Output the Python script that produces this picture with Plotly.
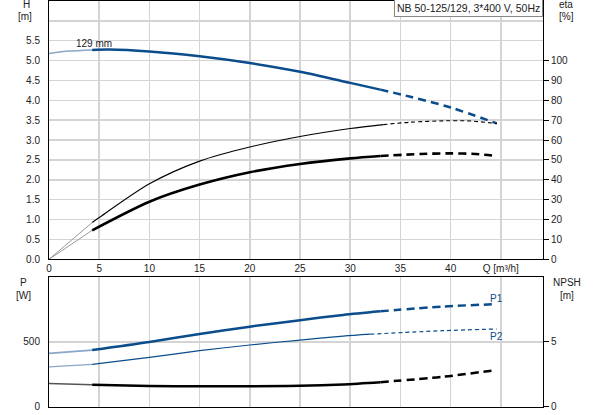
import plotly.graph_objects as go

# ---- data ----
q_h = [0, 2, 4.3, 6, 10, 15, 20, 25, 30, 33, 36, 40, 44.6]
h_vals = [5.18, 5.24, 5.27, 5.28, 5.23, 5.11, 4.94, 4.72, 4.44, 4.27, 4.09, 3.82, 3.42]

q_eta1 = [4.3, 5, 10, 15, 20, 25, 30, 33.3, 36, 39.6, 42, 44.6]
eta1 = [18.5, 21, 38, 49.4, 56.5, 61.8, 65.8, 67.8, 69.0, 69.7, 69.6, 68.3]

q_eta2 = [4.3, 10, 15, 20, 25, 30, 33, 37, 40, 42.5, 44.6]
eta2 = [14.6, 29, 37.6, 43.8, 48, 50.8, 52.0, 53.0, 53.3, 53.0, 52.0]

q_p1 = [0, 4.3, 10, 15, 20, 25, 29.3, 33, 39.2, 44.6]
p1 = [413, 438, 500, 562, 618, 668, 708, 736, 773, 791]

q_p2 = [0, 4.3, 10, 15, 20, 25, 29.3, 32, 39.2, 44.6]
p2 = [309, 328, 382, 433, 477, 515, 545, 560, 587, 600]

q_npsh = [0, 4.3, 10, 15, 20, 25, 29.3, 33, 39.2, 44.5]
npsh = [1.81, 1.72, 1.62, 1.60, 1.60, 1.63, 1.74, 1.91, 2.32, 2.84]

x_ticks = [0, 5, 10, 15, 20, 25, 30, 35, 40, 45]
x_ticktext = ["0", "5", "10", "15", "20", "25", "30", "35", "40", "Q [m³/h]"]
h_ticks = [0, 0.5, 1, 1.5, 2, 2.5, 3, 3.5, 4, 4.5, 5, 5.5, 6]
h_ticktext = ["0.0", "0.5", "1.0", "1.5", "2.0", "2.5", "3.0", "3.5", "4.0", "4.5", "5.0", "5.5", ""]
eta_ticks = [0, 10, 20, 30, 40, 50, 60, 70, 80, 90, 100]
p_ticks = [0, 500]
npsh_ticks = [0, 5]

title_text = "NB 50-125/129, 3*400 V, 50Hz"

BLUE = "#0b4c8c"
LIGHT_BLUE = "#8aa6c8"
GRID = "#d4d4d4"
FONT = "Liberation Sans, Arial, sans-serif"

fig = go.Figure()

def add(x, y, xa, ya, color, width, dash="solid"):
    fig.add_trace(go.Scatter(x=x, y=y, xaxis=xa, yaxis=ya, mode="lines",
                             line=dict(color=color, width=width, dash=dash, shape="spline", smoothing=0.8),
                             hoverinfo="skip", showlegend=False))

# H curve
add(q_h[0:3], h_vals[0:3], "x", "y", LIGHT_BLUE, 1.5)
add(q_h[2:10], h_vals[2:10], "x", "y", BLUE, 2.5)
add(q_h[9:], h_vals[9:], "x", "y", BLUE, 2.5, "8px,5px")

# eta curves (right axis)
add([0, q_eta1[0]], [0, eta1[0]], "x", "y2", "#999999", 1)
add([0, q_eta2[0]], [0, eta2[0]], "x", "y2", "#999999", 1)
add(q_eta1[0:8], eta1[0:8], "x", "y2", "black", 1.1)
add(q_eta1[7:], eta1[7:], "x", "y2", "black", 1.1, "4px,3px")
add(q_eta2[0:7], eta2[0:7], "x", "y2", "black", 2.6)
add(q_eta2[6:], eta2[6:], "x", "y2", "black", 2.6, "8px,5px")

# P1, P2
add(q_p1[0:2], p1[0:2], "x2", "y3", LIGHT_BLUE, 1.8)
add(q_p1[1:8], p1[1:8], "x2", "y3", BLUE, 2.5)
add(q_p1[7:], p1[7:], "x2", "y3", BLUE, 2.5, "8px,5px")
add(q_p2[0:2], p2[0:2], "x2", "y3", LIGHT_BLUE, 1.2)
add(q_p2[1:8], p2[1:8], "x2", "y3", BLUE, 1.2)
add(q_p2[7:], p2[7:], "x2", "y3", BLUE, 1.2, "4px,3px")

# NPSH
add(q_npsh[0:2], npsh[0:2], "x2", "y4", "#555555", 1.5)
add(q_npsh[1:8], npsh[1:8], "x2", "y4", "black", 2.5)
add(q_npsh[7:], npsh[7:], "x2", "y4", "black", 2.5, "8px,5px")

axis_font = dict(family=FONT, size=10, color="#222")
common_x = dict(range=[0, 49.2], tickvals=x_ticks, showgrid=True, gridcolor=GRID, gridwidth=1.5,
                zeroline=False, showline=True, linecolor="black", linewidth=1, mirror=True,
                ticks="", tickfont=axis_font)

fig.update_layout(
    width=593, height=415,
    margin=dict(l=49, r=50, t=1, b=8),
    paper_bgcolor="white", plot_bgcolor="white",
    font=dict(family=FONT, size=10, color="#222"),
    xaxis=dict(common_x, domain=[0, 1], anchor="y", ticktext=x_ticktext),
    yaxis=dict(domain=[0.3638, 1], range=[0, 6.5], tickvals=h_ticks, ticktext=h_ticktext,
               showgrid=True, gridcolor=GRID, gridwidth=1.5, zeroline=False,
               showline=True, linecolor="black", linewidth=1, mirror=True,
               ticks="", ticklabelstandoff=6, tickfont=axis_font),
    yaxis2=dict(overlaying="y", side="right", range=[0, 130], tickvals=eta_ticks,
                showgrid=False, zeroline=False, showline=True, linecolor="black",
                ticks="outside", ticklen=5, tickcolor="black", tickfont=axis_font),
    xaxis2=dict(common_x, domain=[0, 1], anchor="y3", matches="x", showticklabels=False),
    yaxis3=dict(domain=[0, 0.3202], range=[0, 1000], tickvals=p_ticks,
                showgrid=True, gridcolor=GRID, gridwidth=1.5, zeroline=False,
                showline=True, linecolor="black", linewidth=1, mirror=True,
                ticks="", ticklabelstandoff=6, tickfont=axis_font),
    yaxis4=dict(overlaying="y3", side="right", range=[0, 10], tickvals=npsh_ticks,
                showgrid=False, zeroline=False, showline=True, linecolor="black",
                ticks="outside", ticklen=5, tickcolor="black", tickfont=axis_font),
)

def label(text, px, py, color="#222"):
    fig.add_annotation(text=text, xref="paper", yref="paper",
                       x=(px - 49) / 494, y=(407 - py) / 406,
                       xanchor="center", yanchor="middle", showarrow=False,
                       font=dict(family=FONT, size=10, color=color))

label("H", 26, 5)
label("[m]", 25, 17)
label("eta", 566, 5)
label("[%]", 566, 17)
label("P", 23, 283)
label("[W]", 23, 295)
label("NPSH", 567, 283)
label("[m]", 567, 295)

fig.add_annotation(text=title_text, xref="paper", yref="paper",
                   x=(468 - 49) / 494, y=(407 - 7.5) / 406, xanchor="center", yanchor="middle",
                   showarrow=False, bgcolor="white", bordercolor="#888", borderwidth=1, borderpad=2,
                   font=dict(family=FONT, size=10.5, color="#222"))

fig.add_annotation(text="129 mm", x=4.5, y=5.44, xref="x", yref="y", showarrow=False,
                   xanchor="center", yanchor="middle", font=dict(family=FONT, size=10, color="#222"))
fig.add_annotation(text="P1", x=44.6, y=838, xref="x2", yref="y3", showarrow=False,
                   xanchor="center", yanchor="middle", font=dict(family=FONT, size=10, color=BLUE))
fig.add_annotation(text="P2", x=44.6, y=546, xref="x2", yref="y3", showarrow=False,
                   xanchor="center", yanchor="middle", font=dict(family=FONT, size=10, color=BLUE))

fig.write_html("out.html", config={"displayModeBar": False, "staticPlot": True},
               post_script="document.body.style.margin='0';document.body.style.overflow='hidden';")
